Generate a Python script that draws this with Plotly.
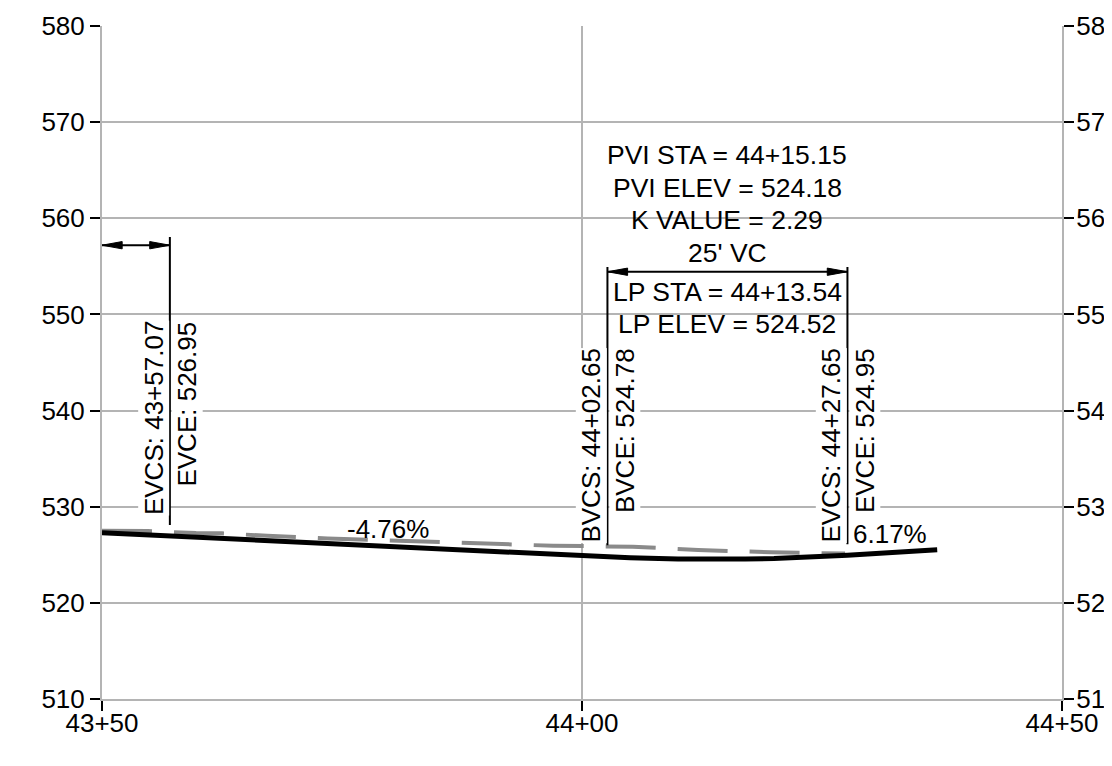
import plotly.graph_objects as go

# ---------------- data ----------------
# finished grade profile (station in ft, elevation in ft)
fg_station = [4350.00, 4357.07, 4402.65, 4405.00, 4410.00, 4413.54, 4417.00, 4420.00, 4424.00, 4427.65, 4437.00]
fg_elev = [527.29, 526.95, 524.78, 524.68, 524.55, 524.52, 524.55, 524.61, 524.76, 524.95, 525.53]

# existing ground (dashed grey)
eg_station = [4350.0, 4354.8, 4359.8, 4362.5, 4367.2, 4373.5, 4387.0, 4397.0, 4405.3, 4412.1, 4419.7, 4427.4]
eg_elev = [527.50, 527.47, 527.26, 527.23, 526.98, 526.69, 526.26, 525.94, 525.84, 525.50, 525.26, 525.13]

# curve points labelled on the profile
curve_pt_station = [4357.07, 4402.65, 4427.65]
curve_pt_station_label = ["EVCS: 43+57.07", "BVCS: 44+02.65", "EVCS: 44+27.65"]
curve_pt_elev_label = ["EVCE: 526.95", "BVCE: 524.78", "EVCE: 524.95"]

# vertical curve info
pvi_station = 4415.15
pvi_lines = ["PVI STA = 44+15.15", "PVI ELEV = 524.18", "K VALUE = 2.29", "25' VC"]
lp_lines = ["LP STA = 44+13.54", "LP ELEV = 524.52"]

grade_labels = ["-4.76%", "6.17%"]

x_tickvals = [4350, 4400, 4450]
x_ticktext = ["43+50", "44+00", "44+50"]
y_tickvals = [510, 520, 530, 540, 550, 560, 570, 580]

# ---------------- style ----------------
FONT = "Liberation Sans, Arial, Helvetica, sans-serif"
FS = 26
GRID = "#b4b4b4"
TXT = dict(family=FONT, size=FS, color="black")
TXT_BLOCK = dict(family=FONT, size=26.5, color="black")

fig = go.Figure()

fig.add_trace(go.Scatter(x=eg_station, y=eg_elev, mode="lines",
                         line=dict(color="#8a8a8a", width=4, dash="50px,22px"),
                         showlegend=False, hoverinfo="skip"))
fig.add_trace(go.Scatter(x=fg_station, y=fg_elev, mode="lines",
                         line=dict(color="black", width=5),
                         showlegend=False, hoverinfo="skip"))
# invisible trace to activate right axis
fig.add_trace(go.Scatter(x=[x_tickvals[0]], y=[y_tickvals[0]], yaxis="y2", mode="markers",
                         marker=dict(opacity=0), showlegend=False, hoverinfo="skip"))

shapes = []
annotations = []

AH_LEN = 2.1   # arrowhead length (ft)
AH_HALF = 0.38  # arrowhead half width (ft)


def arrowhead(tip_x, y, direction):
    bx = tip_x - direction * AH_LEN
    return dict(type="path", xref="x", yref="y",
                path=f"M {tip_x},{y} L {bx},{y + AH_HALF} L {bx},{y - AH_HALF} Z",
                fillcolor="black", line=dict(color="black", width=1))


def dim_line(x0, x1, y):
    shapes.append(dict(type="line", xref="x", yref="y", x0=x0, x1=x1, y0=y, y1=y,
                       line=dict(color="black", width=2)))
    shapes.append(arrowhead(x0, y, -1))
    shapes.append(arrowhead(x1, y, 1))


def vline(x, y0, y1):
    shapes.append(dict(type="line", xref="x", yref="y", x0=x, x1=x, y0=y0, y1=y1,
                       line=dict(color="black", width=2)))


# white masks behind the text blocks (above grid, below traces)
vc_dim_y = 554.44
shapes.append(dict(type="rect", xref="x", yref="y", layer="below",
                   x0=pvi_station - 13.2, x1=pvi_station + 13.2,
                   y0=vc_dim_y + 0.6, y1=vc_dim_y + 13.6,
                   fillcolor="white", line=dict(width=0)))
shapes.append(dict(type="rect", xref="x", yref="y", layer="below",
                   x0=curve_pt_station[1] + 0.15, x1=curve_pt_station[2] - 0.15,
                   y0=vc_dim_y - 7.2, y1=vc_dim_y - 0.3,
                   fillcolor="white", line=dict(width=0)))

# left dimension (from start of view to EVC of previous curve)
left_dim_y = 557.2
dim_line(x_tickvals[0], curve_pt_station[0], left_dim_y)
vline(curve_pt_station[0], 528.1, left_dim_y + 0.85)

# 25' VC dimension
dim_line(curve_pt_station[1], curve_pt_station[2], vc_dim_y)
vline(curve_pt_station[1], 526.0, vc_dim_y + 0.5)
vline(curve_pt_station[2], 526.1, vc_dim_y + 0.5)

# rotated labels
label_top = [549.4, 546.6, 546.6]
for sta, s_lab, e_lab, top in zip(curve_pt_station, curve_pt_station_label, curve_pt_elev_label, label_top):
    annotations.append(dict(x=sta, y=top, xref="x", yref="y", text=s_lab, textangle=-90,
                            xanchor="right", yanchor="top", xshift=0, showarrow=False,
                            bgcolor="white", borderpad=0, font=TXT))
    annotations.append(dict(x=sta, y=top, xref="x", yref="y", text=e_lab, textangle=-90,
                            xanchor="left", yanchor="top", xshift=1, showarrow=False,
                            bgcolor="white", borderpad=0, font=TXT))

# PVI block (one annotation per line, 32.5 px spacing)
pvi_shift = [116.7, 84.2, 52.2, 19.2]
for line_txt, dy in zip(pvi_lines, pvi_shift):
    annotations.append(dict(x=pvi_station, y=vc_dim_y, xref="x", yref="y", text=line_txt,
                            showarrow=False, xanchor="center", yanchor="middle", yshift=dy,
                            font=TXT_BLOCK))
# LP block
lp_shift = [-20.0, -52.5]
for line_txt, dy in zip(lp_lines, lp_shift):
    annotations.append(dict(x=pvi_station, y=vc_dim_y, xref="x", yref="y", text=line_txt,
                            showarrow=False, xanchor="center", yanchor="middle", yshift=dy,
                            font=TXT_BLOCK))

# grade labels
annotations.append(dict(x=4379.8, y=527.7, xref="x", yref="y", text=grade_labels[0],
                        showarrow=False, xanchor="center", yanchor="middle", font=TXT))
annotations.append(dict(x=curve_pt_station[2], y=527.16, xref="x", yref="y", text=grade_labels[1],
                        showarrow=False, xanchor="left", yanchor="middle", xshift=4, font=TXT))

axis_common = dict(showline=True, linecolor=GRID, linewidth=2,
                   ticks="outside", ticklen=10, tickwidth=2, tickcolor="black",
                   tickfont=TXT, zeroline=False)

fig.update_layout(
    width=1112, height=758,
    margin=dict(l=94, r=58, t=18, b=67, autoexpand=False),
    paper_bgcolor="white", plot_bgcolor="white",
    showlegend=False,
    shapes=shapes, annotations=annotations,
    xaxis=dict(range=[x_tickvals[0], x_tickvals[-1]], tickmode="array",
               tickvals=x_tickvals, ticktext=x_ticktext, ticklabelstandoff=-10,
               showgrid=True, gridcolor=GRID, gridwidth=2, **axis_common),
    yaxis=dict(range=[y_tickvals[0], y_tickvals[-1]], tickmode="array",
               tickvals=y_tickvals, showgrid=True, gridcolor=GRID, gridwidth=2,
               **axis_common),
    yaxis2=dict(range=[y_tickvals[0], y_tickvals[-1]], tickmode="array",
                tickvals=y_tickvals, overlaying="y", side="right", showgrid=False,
                ticklabelstandoff=-3, **axis_common),
)

fig.write_html("out.html")
